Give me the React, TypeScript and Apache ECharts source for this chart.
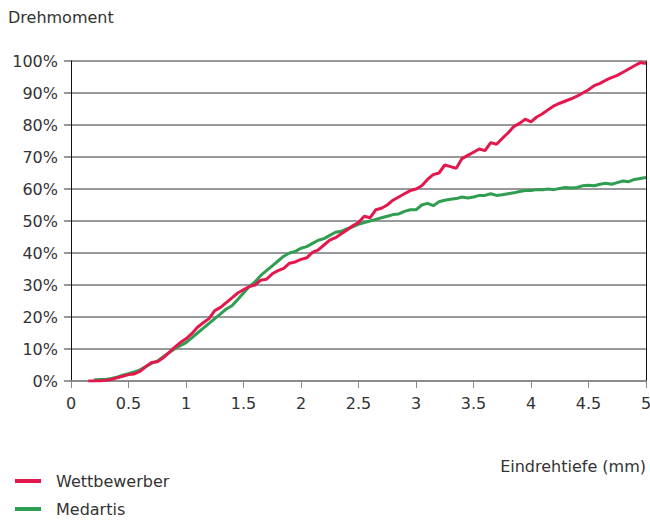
import React, { useEffect, useRef } from "react";
import * as echarts from "echarts";

const redX = [0.15,0.2,0.25,0.3,0.35,0.4,0.45,0.5,0.55,0.6,0.65,0.7,0.75,0.8,0.85,0.9,0.95,1.0,1.05,1.1,1.15,1.2,1.25,1.3,1.35,1.4,1.45,1.5,1.55,1.6,1.65,1.7,1.75,1.8,1.85,1.9,1.95,2.0,2.05,2.1,2.15,2.2,2.25,2.3,2.35,2.4,2.45,2.5,2.55,2.6,2.65,2.7,2.75,2.8,2.85,2.9,2.95,3.0,3.05,3.1,3.15,3.2,3.25,3.3,3.35,3.4,3.45,3.5,3.55,3.6,3.65,3.7,3.75,3.8,3.85,3.9,3.95,4.0,4.05,4.1,4.15,4.2,4.25,4.3,4.35,4.4,4.45,4.5,4.55,4.6,4.65,4.7,4.75,4.8,4.85,4.9,4.95,5.0];
const redY = [0,0,0,0.2,0.5,1.0,1.5,2.0,2.2,3.0,4.5,5.8,6.0,7.2,8.8,10.5,12.0,13.2,14.8,16.8,18.2,19.5,22.0,23.0,24.5,26.0,27.5,28.5,29.5,30.0,31.5,31.8,33.5,34.5,35.2,36.8,37.2,38.0,38.5,40.2,41.0,42.5,44.0,44.8,46.0,47.2,48.5,49.5,51.5,51.0,53.5,54.0,55.0,56.5,57.5,58.5,59.5,60.0,61.0,63.0,64.5,65.0,67.5,67.0,66.5,69.5,70.5,71.5,72.5,72.0,74.5,74.0,75.8,77.5,79.5,80.5,81.8,81.0,82.5,83.5,84.8,86.0,86.8,87.5,88.2,89.0,90.0,91.0,92.3,93.0,94.0,94.8,95.5,96.5,97.5,98.5,99.5,99.2];

const greenX = [0.2,0.25,0.3,0.35,0.4,0.45,0.5,0.55,0.6,0.65,0.7,0.75,0.8,0.85,0.9,0.95,1.0,1.05,1.1,1.15,1.2,1.25,1.3,1.35,1.4,1.45,1.5,1.55,1.6,1.65,1.7,1.75,1.8,1.85,1.9,1.95,2.0,2.05,2.1,2.15,2.2,2.25,2.3,2.35,2.4,2.45,2.5,2.55,2.6,2.65,2.7,2.75,2.8,2.85,2.9,2.95,3.0,3.05,3.1,3.15,3.2,3.25,3.3,3.35,3.4,3.45,3.5,3.55,3.6,3.65,3.7,3.75,3.8,3.85,3.9,3.95,4.0,4.05,4.1,4.15,4.2,4.25,4.3,4.35,4.4,4.45,4.5,4.55,4.6,4.65,4.7,4.75,4.8,4.85,4.9,4.95,5.0];
const greenY = [0.3,0.5,0.5,0.8,1.2,1.8,2.3,2.8,3.5,4.5,5.5,6.2,7.5,8.8,10.0,11.0,12.0,13.5,15.0,16.5,18.0,19.5,21.0,22.5,23.5,25.5,27.5,29.5,31.0,33.0,34.5,36.0,37.5,39.0,40.0,40.5,41.5,42.0,43.0,44.0,44.5,45.5,46.5,46.8,47.5,48.2,49.0,49.5,50.0,50.5,51.0,51.5,52.0,52.2,53.0,53.5,53.5,55.0,55.5,54.8,56.0,56.5,56.8,57.0,57.5,57.2,57.5,58.0,58.0,58.5,58.0,58.2,58.5,58.8,59.2,59.5,59.5,59.8,59.8,60.0,59.8,60.2,60.5,60.3,60.5,61.0,61.2,61.0,61.5,61.8,61.5,62.0,62.5,62.3,63.0,63.3,63.6];

const seriesNames = ["Wettbewerber", "Medartis"];
const xTicks = [0, 0.5, 1, 1.5, 2, 2.5, 3, 3.5, 4, 4.5, 5];

const FONT = "'DejaVu Sans', sans-serif";

const legendBase = {
  orient: "vertical",
  left: 10,
  itemWidth: 26,
  itemHeight: 4,
  icon: "rect",
  textStyle: { fontSize: 16, color: "#333", fontFamily: FONT, padding: [0, 0, 0, 10] },
};

export default function App() {
  const ref = useRef<HTMLDivElement>(null);
  useEffect(() => {
    if (!ref.current) return;
    const chart = echarts.init(ref.current, null, { renderer: "svg" });
    chart.setOption({
      animation: false,
      backgroundColor: "#fff",
      textStyle: { fontFamily: FONT },
      graphic: [
        { type: "text", left: 8, top: 9, style: { text: "Drehmoment", font: `16px ${FONT}`, fill: "#333" } },
        { type: "text", right: 4, top: 458, style: { text: "Eindrehtiefe (mm)", font: `16px ${FONT}`, fill: "#333" } },
      ],
      legend: [
        { ...legendBase, top: 468, data: [seriesNames[0]] },
        { ...legendBase, top: 496, data: [seriesNames[1]] },
      ],
      grid: { left: 71, right: 4, top: 61, bottom: 140, containLabel: false, outerBoundsMode: "none" },
      xAxis: {
        type: "value",
        min: 0,
        max: 5,
        interval: 0.5,
        axisLine: { show: true, lineStyle: { color: "#888", width: 1.5 } },
        axisTick: { show: true, length: 7, lineStyle: { color: "#888" } },
        splitLine: { show: false },
        axisLabel: {
          fontSize: 16,
          color: "#333",
          margin: 14,
          fontFamily: FONT,
          formatter: (v: number) => (xTicks.includes(v) ? String(v) : ""),
        },
      },
      yAxis: [
        {
          type: "value",
          min: 0,
          max: 100,
          interval: 10,
          axisLine: { show: true, lineStyle: { color: "#111", width: 1 } },
          axisTick: { show: true, length: 7, lineStyle: { color: "#777", width: 1.5 } },
          splitLine: { show: true, lineStyle: { color: "#777", width: 1.5 } },
          axisLabel: { fontSize: 16, color: "#333", margin: 13, fontFamily: FONT, formatter: "{value}%" },
        },
        {
          type: "value",
          min: 0,
          max: 100,
          interval: 10,
          position: "right",
          axisLine: { show: true, lineStyle: { color: "#111", width: 1 } },
          axisTick: { show: false },
          splitLine: { show: false },
          axisLabel: { show: false },
        },
      ],
      series: [
        {
          name: seriesNames[0],
          type: "line",
          data: redX.map((x, i) => [x, redY[i]]),
          showSymbol: false,
          lineStyle: { color: "#e3184c", width: 3 },
          itemStyle: { color: "#e3184c" },
          z: 3,
        },
        {
          name: seriesNames[1],
          type: "line",
          data: greenX.map((x, i) => [x, greenY[i]]),
          showSymbol: false,
          lineStyle: { color: "#2f9e50", width: 3 },
          itemStyle: { color: "#2f9e50" },
          z: 2,
        },
      ],
    });
    return () => chart.dispose();
  }, []);
  return <div ref={ref} style={{ width: 650, height: 521, position: "absolute", left: 0, top: 0 }} />;
}
